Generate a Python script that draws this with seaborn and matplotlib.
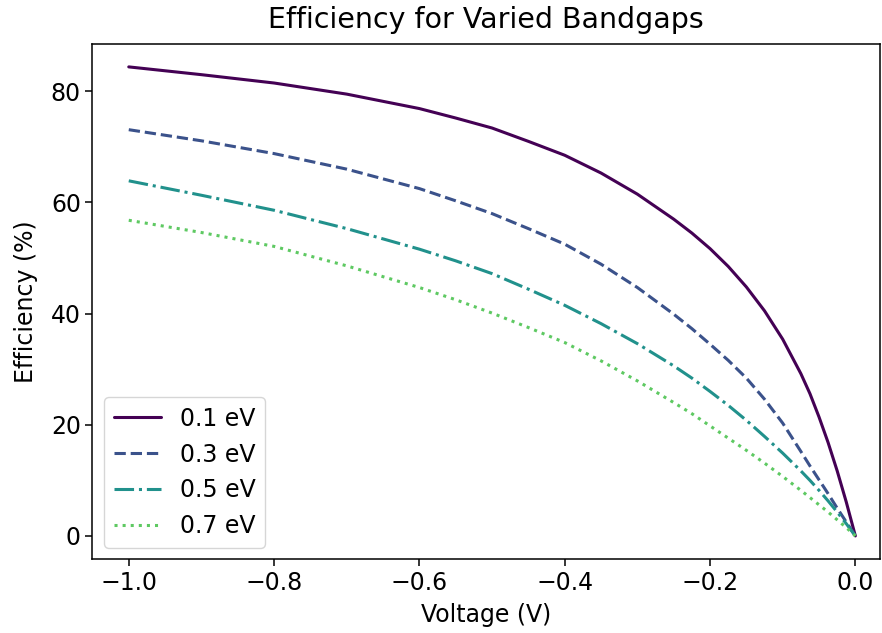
import matplotlib
matplotlib.use("Agg")
import matplotlib.pyplot as plt
import pandas as pd
import seaborn as sns

# Voltage samples (V)
voltage = [-1.0, -0.9, -0.8, -0.7, -0.6, -0.55, -0.5, -0.45, -0.4, -0.35, -0.3,
           -0.25, -0.225, -0.2, -0.175, -0.15, -0.125, -0.1, -0.075,
           -0.0625, -0.05, -0.0375, -0.025, -0.0125, 0.0]

# Efficiency (%) for each bandgap
eff_01 = [84.4, 83.0, 81.5, 79.5, 76.9, 75.2, 73.4, 71.0, 68.5, 65.3, 61.5,
          57.0, 54.5, 51.7, 48.5, 44.8, 40.5, 35.4, 29.2,
          25.6, 21.4, 16.8, 11.7, 6.1, 0.0]
eff_03 = [73.1, 71.1, 68.8, 66.0, 62.5, 60.3, 58.0, 55.3, 52.5, 48.9, 44.7,
          39.9, 37.3, 34.5, 31.6, 28.4, 24.6, 20.3, 15.2,
          12.6, 10.1, 7.6, 5.0, 2.5, 0.0]
eff_05 = [63.9, 61.3, 58.6, 55.3, 51.6, 49.5, 47.2, 44.4, 41.5, 38.2, 34.6,
          30.6, 28.4, 26.0, 23.5, 20.8, 17.9, 14.9, 11.7,
          10.0, 8.2, 6.3, 4.3, 2.2, 0.0]
eff_07 = [56.8, 54.6, 52.1, 48.6, 44.7, 42.5, 40.1, 37.5, 34.8, 31.5, 27.9,
          24.0, 22.0, 19.8, 17.6, 15.4, 13.1, 10.7, 8.2,
          6.9, 5.6, 4.3, 2.9, 1.5, 0.0]

labels = ["0.1 eV", "0.3 eV", "0.5 eV", "0.7 eV"]
series = [eff_01, eff_03, eff_05, eff_07]

df = pd.concat(
    [pd.DataFrame({"Voltage": voltage, "Efficiency": s, "Bandgap": lab})
     for s, lab in zip(series, labels)],
    ignore_index=True,
)

sns.set_style("ticks", rc={
    "text.color": "black", "axes.labelcolor": "black",
    "xtick.color": "black", "ytick.color": "black",
    "axes.edgecolor": "black",
})
plt.rcParams["font.family"] = ["DejaVu Sans"]

colors = [plt.cm.viridis(v) for v in (0.0, 0.25, 0.5, 0.75)]
styles = ["-", "--", "-.", ":"]

fig = plt.figure(figsize=(8.82, 6.33), dpi=100)
ax = fig.add_axes([0.1048, 0.1163, 0.893, 0.8149])

for lab, col, ls in zip(labels, colors, styles):
    sub = df[df["Bandgap"] == lab]
    sns.lineplot(data=sub, x="Voltage", y="Efficiency", color=col,
                 linestyle=ls, linewidth=2.2, label=lab, ax=ax)

ax.set_xlim(-1.05, 0.034)
ax.set_ylim(-4.22, 88.6)
ax.set_xticks([-1.0, -0.8, -0.6, -0.4, -0.2, 0.0])
ax.set_yticks([0, 20, 40, 60, 80])
ax.tick_params(labelsize=17, width=1.1, length=4.8)
for sp in ax.spines.values():
    sp.set_linewidth(1.1)
    sp.set_visible(True)

ax.set_title("Efficiency for Varied Bandgaps", fontsize=20.5, pad=11)
ax.set_xlabel("Voltage (V)", fontsize=17, labelpad=6)
ax.set_ylabel("Efficiency (%)", fontsize=17, labelpad=9)

ax.legend(loc="lower left", fontsize=17, frameon=True, handlelength=2.0)

fig.savefig("out.png", dpi=100)
